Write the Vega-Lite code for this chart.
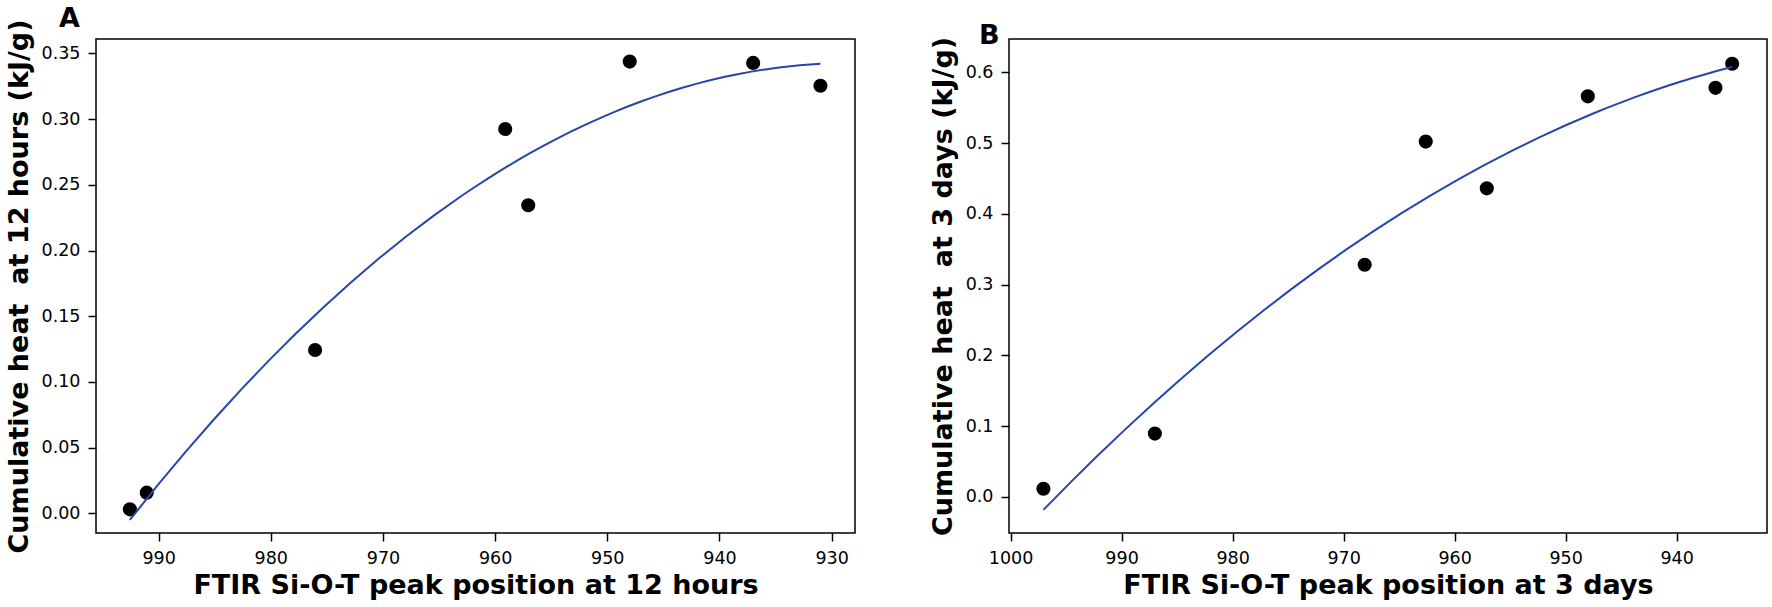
{
  "$schema": "https://vega.github.io/schema/vega-lite/v6.json",
  "background": "white",
  "padding": {"left": 4, "top": 4, "right": 5, "bottom": 2},
  "spacing": 72,
  "datasets": {
    "heat12h": [
      {"peak": 992.56, "heat": 0.003},
      {"peak": 991.06, "heat": 0.0157},
      {"peak": 976.05, "heat": 0.1243},
      {"peak": 959.1, "heat": 0.2925},
      {"peak": 957.05, "heat": 0.2345},
      {"peak": 948.0, "heat": 0.3438},
      {"peak": 937.0, "heat": 0.3428},
      {"peak": 931.0, "heat": 0.3254}
    ],
    "heat3d": [
      {"peak": 997.04, "heat": 0.0115},
      {"peak": 987.0, "heat": 0.0895},
      {"peak": 968.1, "heat": 0.328},
      {"peak": 962.6, "heat": 0.502},
      {"peak": 957.1, "heat": 0.436},
      {"peak": 948.0, "heat": 0.566},
      {"peak": 936.5, "heat": 0.578},
      {"peak": 935.0, "heat": 0.612}
    ]
  },
  "config": {
    "font": "DejaVu Sans",
    "view": {"stroke": "black", "strokeWidth": 1.5},
    "axis": {
      "grid": false,
      "domain": false,
      "tickColor": "black",
      "tickSize": 8,
      "tickWidth": 1.5,
      "labelFont": "DejaVu Sans",
      "labelFontSize": 17.5,
      "labelColor": "black",
      "labelPadding": 8,
      "titleFont": "DejaVu Sans",
      "titleFontSize": 27,
      "titleFontWeight": "bold",
      "titleColor": "black"
    },
    "title": {
      "font": "DejaVu Sans",
      "fontSize": 27,
      "fontWeight": "bold",
      "anchor": "start",
      "frame": "group",
      "color": "black"
    }
  },
  "hconcat": [
    {
      "width": 759,
      "height": 494,
      "title": {"text": "A", "dx": -37, "offset": -14},
      "data": {"name": "heat12h"},
      "layer": [
        {
          "mark": {"type": "circle", "size": 200, "color": "black", "opacity": 1},
          "encoding": {
            "x": {
              "field": "peak",
              "type": "quantitative",
              "scale": {"domain": [927.92, 995.58], "reverse": true, "nice": false, "zero": false},
              "axis": {"values": [990, 980, 970, 960, 950, 940, 930], "format": "d", "title": "FTIR Si-O-T peak position at 12 hours", "titlePadding": 6}
            },
            "y": {
              "field": "heat",
              "type": "quantitative",
              "scale": {"domain": [-0.015, 0.361], "nice": false, "zero": false},
              "axis": {"values": [0, 0.05, 0.1, 0.15, 0.2, 0.25, 0.3, 0.35], "format": ".2f", "title": "Cumulative heat\u00a0 at 12 hours (kJ/g)", "titlePadding": 8}
            }
          }
        },
        {
          "transform": [{"regression": "heat", "on": "peak", "method": "poly", "order": 2}],
          "mark": {"type": "line", "color": "#2746ac", "strokeWidth": 2},
          "encoding": {
            "x": {"field": "peak", "type": "quantitative"},
            "y": {"field": "heat", "type": "quantitative"}
          }
        }
      ]
    },
    {
      "width": 758,
      "height": 494,
      "title": {"text": "B", "dx": -30, "offset": -14},
      "data": {"name": "heat3d"},
      "layer": [
        {
          "mark": {"type": "circle", "size": 200, "color": "black", "opacity": 1},
          "encoding": {
            "x": {
              "field": "peak",
              "type": "quantitative",
              "scale": {"domain": [931.86, 1000.14], "reverse": true, "nice": false, "zero": false},
              "axis": {"values": [1000, 990, 980, 970, 960, 950, 940], "format": "d", "title": "FTIR Si-O-T peak position at 3 days", "titlePadding": 6}
            },
            "y": {
              "field": "heat",
              "type": "quantitative",
              "scale": {"domain": [-0.051, 0.647], "nice": false, "zero": false},
              "axis": {"values": [0, 0.1, 0.2, 0.3, 0.4, 0.5, 0.6], "format": ".1f", "title": "Cumulative heat\u00a0 at 3 days (kJ/g)", "titlePadding": 8}
            }
          }
        },
        {
          "transform": [{"regression": "heat", "on": "peak", "method": "poly", "order": 2}],
          "mark": {"type": "line", "color": "#2746ac", "strokeWidth": 2},
          "encoding": {
            "x": {"field": "peak", "type": "quantitative"},
            "y": {"field": "heat", "type": "quantitative"}
          }
        }
      ]
    }
  ]
}
